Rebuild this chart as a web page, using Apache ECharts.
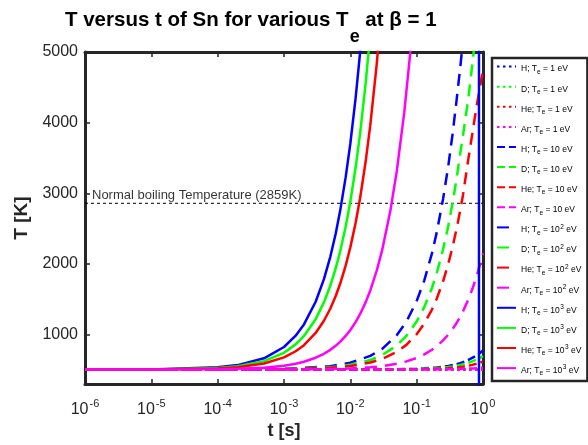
<!DOCTYPE html>
<html>
<head>
<meta charset="utf-8">
<script src="https://cdn.jsdelivr.net/npm/echarts@6/dist/echarts.min.js"></script>
<style>
  html, body { margin: 0; padding: 0; background: #fff; }
  #chart { width: 588px; height: 445px; }
</style>
</head>
<body>
<div id="chart"></div>
<script>
// Surface temperature of Sn versus exposure time, four ion species, four electron temperatures.

const gases = ['H', 'D', 'He', 'Ar'];
const gasColors = ['#0000ff', '#00ff00', '#ff0000', '#ff00ff'];
const teLevels = ['1', '10', '10^2', '10^3'];

const boilingT = 2859;      // K, normal boiling temperature of Sn
const yTicks = [1000, 2000, 3000, 4000, 5000];

// Te = 1 eV: no visible heating over the whole window
const timeFlat = [1e-6, 1];
const h1 = [505, 505];
const d1 = [505, 505];
const he1 = [505, 505];
const ar1 = [505, 505];

// Te = 10 eV and 10^2 eV share one time grid [s]
const timeSlow = [1e-6, 1e-4, 1e-3, 5e-3, 0.01, 0.02, 0.03, 0.05, 0.07, 0.1, 0.13, 0.17,
                  0.2, 0.25, 0.3, 0.35, 0.4, 0.45, 0.5, 0.6, 0.7, 0.8, 0.9, 1];

const h10 = [505, 505, 505, 506, 506, 507, 508, 511, 514, 518, 523, 531,
             536, 546, 557, 569, 582, 596, 611, 642, 674, 706, 740, 775];
const d10 = [505, 505, 505, 505, 506, 506, 507, 509, 511, 514, 518, 523,
             527, 534, 542, 550, 559, 569, 580, 602, 625, 648, 672, 697];
const he10 = [505, 505, 505, 505, 505, 505, 506, 507, 508, 510, 512, 516,
              518, 521, 525, 530, 535, 541, 547, 560, 574, 588, 603, 618];
const ar10 = [505, 505, 505, 505, 505, 505, 505, 505, 506, 506, 507, 508,
              508, 509, 510, 511, 513, 514, 516, 519, 522, 526, 529, 533];

const h100 = [505, 506, 515, 553, 602, 699, 796, 990, 1184, 1475, 1765, 2150,
              2440, 2920, 3390, 3860, 4320, 4750, 5160, 5950, 6700, 7500, 8300, 9000];
const d100 = [505, 506, 512, 539, 573, 641, 709, 845, 981, 1185, 1390, 1660,
              1865, 2205, 2540, 2880, 3210, 3540, 3820, 4340, 4870, 5400, 5900, 6400];
const he100 = [505, 506, 510, 530, 555, 605, 655, 755, 855, 1005, 1155, 1355,
               1505, 1755, 2005, 2255, 2500, 2740, 2980, 3480, 3880, 4230, 4500, 4750];
const ar100 = [505, 505, 507, 513, 521, 538, 554, 588, 621, 670, 720, 786,
               835, 918, 1000, 1083, 1165, 1248, 1330, 1495, 1660, 1825, 1990, 2150];

// Te = 10^3 eV: fast heating, finer early grid [s]
const timeFast = [1e-6, 1e-5, 1e-4, 2e-4, 5e-4, 1e-3, 1.5e-3, 2e-3, 3e-3, 4e-3, 5e-3, 6e-3, 7e-3,
                  8.5e-3, 0.01, 0.012, 0.014, 0.017, 0.02, 0.025, 0.03, 0.04, 0.05, 0.065, 0.08, 0.1];

const h1000 = [505, 508, 537, 569, 665, 825, 985, 1145, 1465, 1785, 2105, 2425, 2745,
               3225, 3705, 4345, 4985, 5945, 6905, 8505, 10105, 13305, 16505, 21305, 26105, 32505];
const d1000 = [505, 507, 529, 553, 624, 743, 862, 981, 1219, 1457, 1695, 1933, 2171,
               2528, 2885, 3361, 3837, 4551, 5265, 6455, 7645, 10025, 12405, 15975, 19545, 24305];
const he1000 = [505, 507, 522, 540, 592, 678, 765, 851, 1024, 1197, 1370, 1543, 1716,
                1976, 2235, 2581, 2927, 3446, 3965, 4830, 5695, 7425, 9155, 11750, 14345, 17805];
const ar1000 = [505, 506, 511, 516, 533, 561, 589, 617, 673, 729, 785, 841, 897,
                981, 1065, 1177, 1289, 1457, 1625, 1905, 2185, 2745, 3305, 4145, 4985, 6105];

// H at 10^3 eV: the solver output collapses near the end of the run
const h1000TailTime = [0.87, 0.87, 1];
const h1000TailTemp = [278900, 0, 0];

const FONT = '"Liberation Sans", Arial, Helvetica, sans-serif';
const INK = '#262626';

function pairs(ts, vs) { return ts.map((t, i) => [t, vs[i]]); }

const curves = [
  [timeFlat, [h1, d1, he1, ar1]],
  [timeSlow, [h10, d10, he10, ar10]],
  [timeSlow, [h100, d100, he100, ar100]],
  [timeFast, [h1000, d1000, he1000, ar1000]]
];

const dashByLevel = [[2.5, 3.5], [8, 4], [12, 8], 'solid'];

const series = [];
const legendNames = [];
const legendRich = {};

curves.forEach(([ts, perGas], li) => {
  perGas.forEach((vals, gi) => {
    const te = teLevels[li];
    const name = gases[gi] + '; Te = ' + te + ' eV';
    let data = pairs(ts, vals);
    if (li === 3 && gi === 0) data = data.concat(pairs(h1000TailTime, h1000TailTemp));
    legendNames.push(name);
    const teText = te.indexOf('^') >= 0
      ? '{b| = ' + te.split('^')[0] + '}{p|' + te.split('^')[1] + '}{b| eV}'
      : '{b| = ' + te + ' eV}';
    legendRich[name] = '{b|' + gases[gi] + '; T}{s|e}' + teText;
    series.push({
      name: name,
      type: 'line',
      data: data,
      symbol: 'none',
      showSymbol: false,
      clip: true,
      z: 2,
      lineStyle: {
        color: gasColors[gi],
        width: 2.5,
        type: dashByLevel[li],
        cap: 'butt'
      },
      itemStyle: { color: gasColors[gi] },
      emphasis: { disabled: true }
    });
  });
});

// Boiling temperature reference line and its caption
series.push({
  type: 'line',
  data: [[1e-6, boilingT], [1, boilingT]],
  symbol: 'none',
  z: 1,
  lineStyle: { color: '#000', width: 1, type: [3, 3] },
  emphasis: { disabled: true }
});
series.push({
  type: 'scatter',
  data: [[1e-6, boilingT]],
  symbolSize: 0,
  z: 3,
  label: {
    show: true,
    position: [7, -8],
    align: 'left',
    verticalAlign: 'middle',
    formatter: 'Normal boiling Temperature (' + boilingT + 'K)',
    fontFamily: FONT,
    fontSize: 13,
    color: '#000'
  },
  emphasis: { disabled: true }
});

const decadeLabel = v => '{b|10}{p|' + Math.round(Math.log10(v)) + '}';

const axisLineStyle = { color: INK, width: 3 };

const option = {
  animation: false,
  backgroundColor: '#fff',
  textStyle: { fontFamily: FONT },
  title: {
    text: '{m|T versus t of Sn for various T}{s|e}{m| at β = 1}',
    left: 65,
    top: 10,
    padding: 0,
    textStyle: {
      rich: {
        m: { fontFamily: FONT, fontSize: 20.5, fontWeight: 'bold', color: '#000',
             lineHeight: 22, verticalAlign: 'top' },
        s: { fontFamily: FONT, fontSize: 18, fontWeight: 'bold', color: '#000',
             lineHeight: 18, verticalAlign: 'top', padding: [18, 0, 0, 1] }
      }
    }
  },
  legend: {
    data: legendNames,
    orient: 'vertical',
    left: 492,
    top: 58,
    padding: [3, 6, 4, 4],
    itemWidth: 19,
    itemHeight: 14,
    itemGap: 5.5,
    selectedMode: false,
    borderColor: INK,
    borderWidth: 2.5,
    backgroundColor: '#fff',
    itemStyle: { opacity: 0, borderWidth: 0 },
    formatter: name => legendRich[name],
    textStyle: {
      color: '#000',
      rich: {
        b: { fontFamily: FONT, fontSize: 8.5, lineHeight: 10, verticalAlign: 'top', padding: [3, 0, 0, 0] },
        s: { fontFamily: FONT, fontSize: 6.5, lineHeight: 7, verticalAlign: 'top', padding: [7, 0, 0, 0] },
        p: { fontFamily: FONT, fontSize: 6.5, lineHeight: 7, verticalAlign: 'top', padding: [1, 0, 0, 0.5] }
      }
    }
  },
  grid: { left: 85, right: 105, top: 52, bottom: 60, containLabel: false },
  xAxis: [
    {
      type: 'log', logBase: 10, min: 1e-6, max: 1, position: 'bottom',
      axisLine: { show: true, onZero: false, lineStyle: axisLineStyle },
      axisTick: { show: true, inside: true, length: 5, lineStyle: { color: INK, width: 1.5 } },
      splitLine: { show: false },
      axisLabel: {
        margin: 12,
        formatter: decadeLabel,
        rich: {
          b: { fontFamily: FONT, fontSize: 16, color: INK, lineHeight: 18, verticalAlign: 'top', padding: [5, 0, 0, 0] },
          p: { fontFamily: FONT, fontSize: 11, color: INK, lineHeight: 12, verticalAlign: 'top', padding: [2, 0, 0, 1] }
        }
      },
      name: 't [s]',
      nameLocation: 'middle',
      nameGap: 37,
      nameTextStyle: { fontFamily: FONT, fontSize: 18, fontWeight: 'bold', color: INK }
    },
    {
      type: 'log', logBase: 10, min: 1e-6, max: 1, position: 'top',
      axisLine: { show: true, onZero: false, lineStyle: axisLineStyle },
      axisTick: { show: true, inside: true, length: 5, lineStyle: { color: INK, width: 1.5 } },
      axisLabel: { show: false },
      splitLine: { show: false }
    }
  ],
  yAxis: [
    {
      type: 'value', min: 300, max: 5000, position: 'left',
      axisLine: { show: true, onZero: false, lineStyle: axisLineStyle },
      axisTick: { show: true, inside: true, length: 5, customValues: yTicks,
                  lineStyle: { color: INK, width: 1.5 } },
      splitLine: { show: false },
      axisLabel: { customValues: yTicks, margin: 7, fontFamily: FONT, fontSize: 16, color: INK,
                   formatter: v => String(v) },
      name: 'T [K]',
      nameLocation: 'middle',
      nameGap: 28,
      nameTextStyle: { fontFamily: FONT, fontSize: 19, fontWeight: 'bold', color: INK }
    },
    {
      type: 'value', min: 300, max: 5000, position: 'right',
      axisLine: { show: true, onZero: false, lineStyle: axisLineStyle },
      axisTick: { show: true, inside: true, length: 5, customValues: yTicks,
                  lineStyle: { color: INK, width: 1.5 } },
      splitLine: { show: false },
      axisLabel: { show: false }
    }
  ],
  series: series
};

const chart = echarts.init(document.getElementById('chart'), null, { renderer: 'canvas', width: 588, height: 445 });
chart.setOption(option);
</script>
</body>
</html>
